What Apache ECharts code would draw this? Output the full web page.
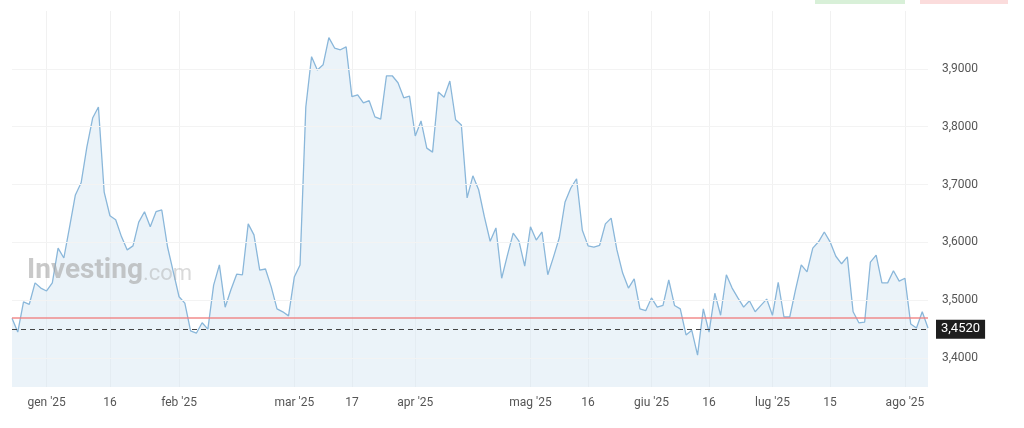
<!DOCTYPE html>
<html>
<head>
<meta charset="utf-8">
<script src="https://cdn.jsdelivr.net/npm/echarts@6/dist/echarts.min.js"></script>
<style>html,body{margin:0;padding:0;background:#fff}#chart{width:1024px;height:428px}</style>
</head>
<body>
<div id="chart"></div>
<script>
// prezzi di chiusura giornalieri (giorni di borsa)
var values = [
  3.469, 3.445, 3.497, 3.493, 3.530, 3.521, 3.516, 3.530, 3.590, 3.573,
  3.627, 3.682, 3.703, 3.765, 3.815, 3.834, 3.687, 3.646, 3.639, 3.610,
  3.587, 3.594, 3.635, 3.653, 3.627, 3.653, 3.656, 3.592, 3.549, 3.506,
  3.495, 3.447, 3.443, 3.461, 3.450, 3.526, 3.561, 3.488, 3.518, 3.545,
  3.544, 3.632, 3.613, 3.552, 3.554, 3.523, 3.485, 3.480, 3.473, 3.540,
  3.561, 3.834, 3.921, 3.898, 3.907, 3.954, 3.936, 3.933, 3.938, 3.852,
  3.855, 3.841, 3.845, 3.817, 3.813, 3.888, 3.888, 3.876, 3.850, 3.853,
  3.784, 3.810, 3.763, 3.756, 3.860, 3.851, 3.879, 3.812, 3.803, 3.677,
  3.715, 3.691, 3.644, 3.602, 3.625, 3.538, 3.578, 3.616, 3.602, 3.559,
  3.627, 3.604, 3.618, 3.544, 3.575, 3.608, 3.670, 3.694, 3.710, 3.621,
  3.594, 3.592, 3.595, 3.632, 3.642, 3.587, 3.547, 3.521, 3.537, 3.485,
  3.482, 3.504, 3.488, 3.491, 3.535, 3.491, 3.485, 3.440, 3.448, 3.405,
  3.485, 3.445, 3.512, 3.474, 3.544, 3.521, 3.504, 3.488, 3.499, 3.480,
  3.491, 3.502, 3.474, 3.531, 3.471, 3.471, 3.518, 3.561, 3.549, 3.590,
  3.601, 3.618, 3.601, 3.576, 3.563, 3.575, 3.480, 3.461, 3.462, 3.566,
  3.578, 3.530, 3.530, 3.551, 3.533, 3.538, 3.459, 3.452, 3.480, 3.452
];
var lastValue = 3.4520;
var prevClose = 3.469;
var yTicks = [3.4, 3.5, 3.6, 3.7, 3.8, 3.9];
var holidays = ['2024-12-25', '2024-12-26', '2025-04-18', '2025-04-21', '2025-05-01'];
var tickDates = ['2025-01-01', '2025-01-16', '2025-02-01', '2025-03-01', '2025-03-17', '2025-04-01',
  '2025-05-01', '2025-05-16', '2025-06-01', '2025-06-16', '2025-07-01', '2025-07-15', '2025-08-01'];
var tickLabels = ["gen '25", '16', "feb '25", "mar '25", '17', "apr '25",
  "mag '25", '16', "giu '25", '16', "lug '25", '15', "ago '25"];

function fmt(d) {
  var m = d.getMonth() + 1, g = d.getDate();
  return d.getFullYear() + '-' + (m < 10 ? '0' : '') + m + '-' + (g < 10 ? '0' : '') + g;
}
// giorni lavorativi dal 20 dic 2024
var dates = [];
var d = new Date(2024, 11, 20);
while (dates.length < values.length) {
  var s = fmt(d);
  if (d.getDay() != 0 && d.getDay() != 6 && holidays.indexOf(s) < 0) dates.push(s);
  d.setDate(d.getDate() + 1);
}
// primo giorno di borsa >= data etichetta
var tickIdx = {};
tickDates.forEach(function (t, k) {
  for (var i = 0; i < dates.length; i++) {
    if (dates[i] >= t) { tickIdx[i] = tickLabels[k]; break; }
  }
});

var chart = echarts.init(document.getElementById('chart'));
var option = {
  animation: false,
  grid: { left: 12, right: 96, top: 11, bottom: 41 },
  graphic: [
    { type: 'text', left: 27, top: 257, z: 10, style: { text: 'Investing', font: 'bold 28px Roboto', fill: 'rgba(165,165,165,0.6)' } },
    { type: 'text', left: 143, top: 263, z: 10, style: { text: '.com', font: '22px Roboto', fill: 'rgba(170,170,170,0.45)' } },
    { type: 'rect', shape: { x: 815, y: 0, width: 90, height: 4 }, style: { fill: '#d8f0d8' } },
    { type: 'rect', shape: { x: 920, y: 0, width: 88, height: 4 }, style: { fill: '#fbdcdc' } }
  ],
  xAxis: {
    type: 'category',
    data: dates,
    boundaryGap: false,
    axisLine: { show: false },
    axisTick: { show: false },
    axisLabel: {
      interval: function (i) { return tickIdx[i] !== undefined; },
      formatter: function (v, i) { return tickIdx[i] || ''; },
      color: '#555', fontSize: 12, fontFamily: 'Roboto', margin: 10
    },
    splitLine: { show: true, interval: function (i) { return tickIdx[i] !== undefined; }, lineStyle: { color: '#f1f1f1' } }
  },
  yAxis: {
    type: 'value',
    position: 'right',
    min: 3.35, max: 4.0, interval: 0.05,
    axisLine: { show: false },
    axisTick: { show: false },
    splitLine: { show: false },
    axisLabel: {
      color: '#555', fontSize: 12, fontFamily: 'Roboto', margin: 14,
      formatter: function (v) {
        var r = Math.round(v * 100);
        return r % 10 == 0 && v < 3.95 && v > 3.36 ? v.toFixed(4).replace('.', ',') : '';
      }
    }
  },
  series: [{
    type: 'line',
    data: values,
    symbol: 'none',
    z: 3,
    lineStyle: { color: '#8ab7da', width: 1.3 },
    areaStyle: { color: 'rgba(214,230,242,0.7)' },
    markLine: {
      silent: true, symbol: 'none',
      data: yTicks.map(function (v) {
        return { yAxis: v, lineStyle: { color: '#f3f3f3', type: 'solid', width: 1 }, label: { show: false } };
      }).concat([
        { yAxis: prevClose, lineStyle: { color: '#f08080', type: 'solid', width: 1.5, opacity: 0.9 }, label: { show: false } },
        { yAxis: lastValue, lineStyle: { color: '#444', type: [5, 4], width: 1 },
          label: { show: true, position: 'end', distance: 8, formatter: lastValue.toFixed(4).replace('.', ','),
            backgroundColor: '#1e1e1e', color: '#fff', fontSize: 13, fontFamily: 'Roboto', padding: [3, 5] } }
      ])
    }
  }]
};
chart.setOption(option);
</script>
</body>
</html>
